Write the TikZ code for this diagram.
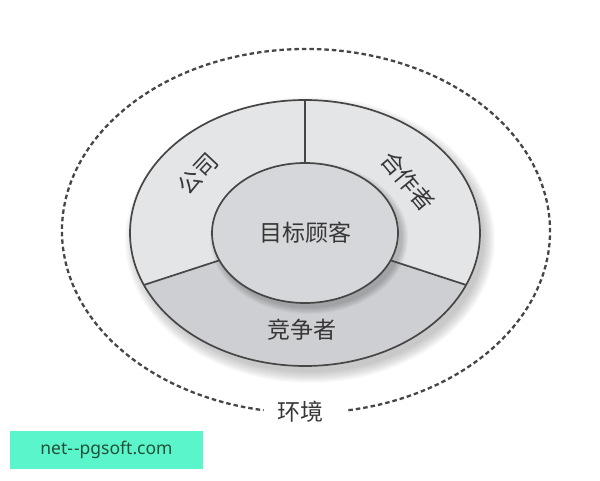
\documentclass[tikz,border=0pt]{standalone}
\usepackage{fontspec}
\setmainfont{Noto Sans CJK SC}
\newfontfamily\latinsans{Noto Sans}
\usetikzlibrary{calc}

\definecolor{ringlight}{RGB}{228,229,231}
\definecolor{ringdark}{RGB}{206,207,210}
\definecolor{coregray}{RGB}{214,215,218}
\definecolor{edgegray}{RGB}{70,70,70}
\definecolor{textgray}{RGB}{55,55,55}
\definecolor{mint}{RGB}{90,245,203}
\definecolor{minttext}{RGB}{35,80,55}

\begin{document}
\begin{tikzpicture}[x=1pt, y=1pt,
    ringline/.style={line width=1.7pt, draw=edgegray},
    segtext/.style={text=textgray, inner sep=0pt, font=\fontsize{23}{23}\selectfont}]
  \useasboundingbox (0,0) rectangle (600,480);
  \coordinate (c) at (305,247);
  \coordinate (env) at (306,249);

  % soft shadow under the ring
  \foreach \i in {0,...,11}
    \fill[black, opacity=0.018] ($(c)+(5,-7)$) ellipse [x radius={174pt+\i pt}, y radius={132pt+\i pt}];

  % ring: light upper part, darker lower part
  \fill[ringlight] (c) ellipse [x radius=175pt, y radius=133pt];
  \fill[ringdark] ($(c)+(203:175 and 133)$) arc[start angle=203, end angle=337, x radius=175pt, y radius=133pt]
    -- ($(c)+(337:93 and 70)$) arc[start angle=337, end angle=203, x radius=93pt, y radius=70pt] -- cycle;

  % shadow of the core on the ring
  \foreach \i in {0,...,6}
    \fill[black, opacity=0.03] ($(c)+(4,-5)$) ellipse [x radius={93pt+\i pt}, y radius={70pt+\i pt}];

  % dividers
  \draw[ringline] ($(c)+(90:175 and 133)$) -- ($(c)+(90:93 and 70)$);
  \draw[ringline] ($(c)+(203:175 and 133)$) -- ($(c)+(203:93 and 70)$);
  \draw[ringline] ($(c)+(337:175 and 133)$) -- ($(c)+(337:93 and 70)$);
  \draw[ringline] (c) ellipse [x radius=175pt, y radius=133pt];

  % core
  \filldraw[fill=coregray, ringline] (c) ellipse [x radius=93pt, y radius=70pt];

  % environment, open at the bottom for its label
  \draw[edgegray, line width=2.3pt, dash pattern=on 4.5pt off 3pt]
    ($(env)+(280:244 and 182)$) arc[start angle=280, end angle=620, x radius=244pt, y radius=182pt];

  \node[segtext] (goal) at (c) {目标顾客};
  \node[segtext, rotate=47] (firm) at (198,306) {公司};
  \node[segtext, rotate=-50] (partner) at (408,299) {合作者};
  \node[segtext] (rival) at (302,150) {竞争者};
  \node[segtext] (world) at (300,68) {环境};

  % watermark
  \node[fill=mint, minimum width=193pt, minimum height=38pt, inner sep=0pt,
        text=minttext, font=\latinsans\fontsize{17.5}{18}\selectfont] (mark) at (106.5,30) {net-\kern1pt-pgsoft.com};
\end{tikzpicture}
\end{document}
